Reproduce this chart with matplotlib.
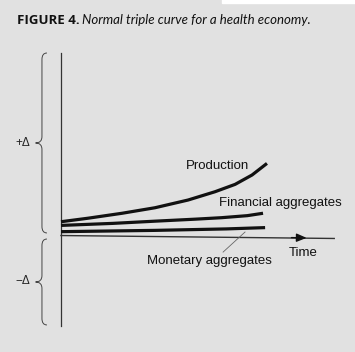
import matplotlib
matplotlib.use("Agg")
import matplotlib.pyplot as plt
from matplotlib.path import Path
from matplotlib.patches import PathPatch

# curves (time units, delta units)
prod_t = [0, 1.3, 2.95, 4.54, 6.14, 7.44, 8.41, 9.23, 9.95]
prod_y = [0.83, 1.02, 1.29, 1.59, 2.01, 2.46, 2.86, 3.37, 4.0]
fin_t = [0, 2.5, 4.54, 6.5, 7.76, 9.0, 9.76]
fin_y = [0.63, 0.74, 0.86, 0.97, 1.05, 1.16, 1.29]
mon_t = [0, 4.54, 8.0, 9.86]
mon_y = [0.29, 0.36, 0.44, 0.51]

title_bold = "FIGURE 4."
title_rest = "Normal triple curve for a health economy."
labels = ["Production", "Financial aggregates", "Monetary aggregates", "Time"]

bg = "#e1e1e1"
fig = plt.figure(figsize=(3.55, 3.52), dpi=100, facecolor=bg)
ax = fig.add_axes([0, 0, 1, 1])
ax.set_facecolor(bg)
ax.axis("off")
# pixel 61 -> t=0, 20.7 px per unit ; pixel 237 -> 0, 18.4 px per unit
ax.set_xlim(-61 / 20.7, (355 - 61) / 20.7)
ax.set_ylim((237 - 352) / 18.4, 237 / 18.4)

fam = ["Liberation Sans", "DejaVu Sans"]

# axes
ax.plot([0, 0], [10, -4.84], color="#333333", lw=0.9)
ax.plot([0, 13.2], [0.08, -0.08], color="#333333", lw=1.0)
ax.annotate("", xy=(12.0, -0.05), xytext=(11.0, -0.03),
            arrowprops=dict(arrowstyle="-|>,head_length=0.6,head_width=0.25",
                            color="#111111", lw=1.0))

# curves
for t, y in [(prod_t, prod_y), (fin_t, fin_y), (mon_t, mon_y)]:
    ax.plot(t, y, color="#111111", lw=2.3, solid_capstyle="butt")

# leader line
ax.plot([7.83, 8.89], [-0.82, 0.27], color="#666666", lw=0.6)

ax.text(7.54, 3.86, labels[0], fontsize=9.5, family=fam, ha="center", va="center", color="#111111")
ax.text(7.63, 1.85, labels[1], fontsize=9.5, family=fam, ha="left", va="center", color="#111111")
ax.text(4.15, -1.30, labels[2], fontsize=9.5, family=fam, ha="left", va="center", color="#111111")
ax.text(11.0, -0.87, labels[3], fontsize=9.5, family=fam, ha="left", va="center", color="#111111")


def brace(x, x_tip, x_hook, top, bottom):
    mid = (top + bottom) / 2
    d = 0.35
    verts = [(x_hook, top), (x, top), (x, top - d),
             (x, mid + d), (x, mid), (x_tip, mid),
             (x, mid), (x, mid - d),
             (x, bottom + d), (x, bottom), (x_hook, bottom)]
    codes = [Path.MOVETO, Path.CURVE3, Path.CURVE3,
             Path.LINETO, Path.CURVE3, Path.CURVE3,
             Path.CURVE3, Path.CURVE3,
             Path.LINETO, Path.CURVE3, Path.CURVE3]
    ax.add_patch(PathPatch(Path(verts, codes), fill=False, ec="#444444", lw=0.7))


brace(-0.92, -1.23, -0.68, 10.0, 0.22)
brace(-0.92, -1.23, -0.68, -0.11, -4.78)
ax.text(-1.84, 5.1, "+Δ", fontsize=8.5, family=fam, ha="center", va="center", color="#222222")
ax.text(-1.84, -2.4, "−Δ", fontsize=8.5, family=fam, ha="center", va="center", color="#222222")

# title
t1 = fig.text(17 / 355, 1 - 20 / 352, title_bold, fontsize=9.5, fontweight="bold",
              family=["Open Sans", "DejaVu Sans"], ha="left", va="center", color="#111111")
fig.canvas.draw()
bb = t1.get_window_extent()
fig.text((bb.x1 + 2) / 355, 1 - 20 / 352, title_rest, fontsize=9.5, style="italic",
         family=["Lato", "DejaVu Sans"], ha="left", va="center", color="#111111")

# white strip at top right
fig.patches.append(plt.Rectangle((222 / 355, 1 - 2.5 / 352), 1, 0.02,
                                 transform=fig.transFigure, color="white", zorder=5))

fig.savefig("out.png", dpi=100, facecolor=bg)
